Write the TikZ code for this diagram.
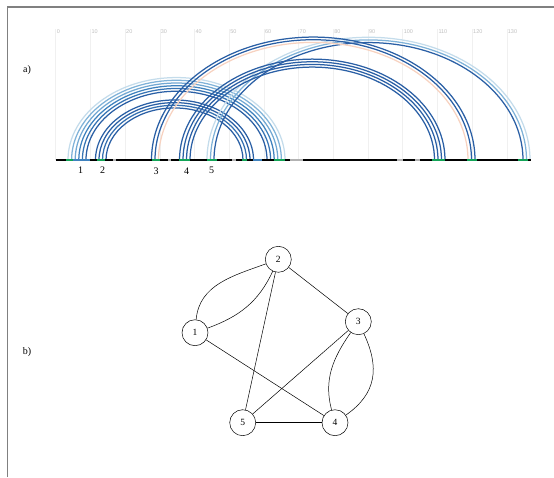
\documentclass[tikz,border=0pt]{standalone}
\usepackage{fontspec}
\setmainfont{Liberation Serif}
\setsansfont{Liberation Sans}
\definecolor{lnkdark}{HTML}{2A5FA5}
\definecolor{lnkmid}{HTML}{3F82BE}
\definecolor{lnklight}{HTML}{7FB2D8}
\definecolor{lnkpale}{HTML}{C4DCEB}
\definecolor{lnksalmon}{HTML}{F7D2C0}
\definecolor{sitegreen}{HTML}{13A457}
\tikzset{frame/.style={draw=black!50,line width=1.3pt},grid/.style={draw=black!6,line width=0.6pt},tick/.style={font=\sffamily\fontsize{5.5}{5.5}\selectfont,text=black!25,anchor=north west,inner sep=0.4pt},site/.style={font=\fontsize{10}{10}\selectfont,inner sep=0pt},link/.style={line width=1.25pt},vertex/.style={draw,circle,minimum size=26pt,inner sep=0pt,font=\fontsize{9.5}{9.5}\selectfont,line width=0.5pt},edge/.style={line width=0.5pt}}
\newcommand{\linkarc}[3]{\draw[link,#3] (#1,-160) arc[start angle=180,end angle=0,x radius={(#2-#1)/2},y radius={0.76*(#2-#1)/2}];}

\begin{document}
\begin{tikzpicture}[x=1pt,y=1pt]
\useasboundingbox (0,0) rectangle (554,-477);
\draw[frame] (7.5,-477) -- (7.5,-7) -- (554,-7);
\node[site] (pa) at (27,-70) {a)};
\node[site] (pb) at (27,-352) {b)};
% position ruler
\foreach \t [evaluate=\t as \v using int(10*\t)] in {0,...,13}{\draw[grid] ({55.7+34.7*\t},-29) -- ({55.7+34.7*\t},-160);\node[tick] at ({56.2+34.7*\t},-29.5) {\v};}
% links
\linkarc{68}{285}{lnkpale}\linkarc{71.6}{281.4}{lnklight}\linkarc{75.2}{277.8}{lnklight!80!lnkmid}\linkarc{78.8}{274.2}{lnkmid}\linkarc{82.4}{270.6}{lnkmid!60!lnkdark}\linkarc{86}{267}{lnkdark}
\linkarc{95.5}{253.5}{lnkdark}\linkarc{99}{250}{lnkdark}\linkarc{102.5}{246.5}{lnkmid!50!lnkdark}\linkarc{106}{243}{lnkdark}
\linkarc{207}{530}{lnkpale}\linkarc{210.5}{526.5}{lnklight}\linkarc{214}{523}{lnkdark}
\linkarc{151.5}{475}{lnkdark}\linkarc{155}{471.5}{lnkdark}\linkarc{158.5}{468}{lnksalmon}
\linkarc{179.5}{445}{lnkdark}\linkarc{183}{441.5}{lnkdark}\linkarc{186.5}{438}{lnkdark}\linkarc{190}{434.5}{lnkdark}
% sequence line
\draw[line width=1.8pt] (55.7,-160) -- (531,-160);
\foreach \a/\b in {113/116,168/171,232/236,290/303,397/403,415/420}{\draw[line width=1.8pt,black!30] (\a,-160) -- (\b,-160);}
\foreach \a/\b in {73/90,253/262}{\draw[line width=1.8pt,lnkmid] (\a,-160) -- (\b,-160);}
\foreach \a/\b in {66/73,97/105,152/160,179/190,207/217,242/247,274/285,432/445,467/477,518/528}{\draw[line width=1.8pt,sitegreen] (\a,-160) -- (\b,-160);}
\node[site] (s1) at (80.7,-170) {1};\node[site] (s2) at (102.7,-170) {2};\node[site] (s3) at (156,-171) {3};\node[site] (s4) at (186.7,-171) {4};\node[site] (s5) at (211.7,-170) {5};
% contact graph
\node[vertex] (n1) at (195,-332.7) {1};
\node[vertex] (n2) at (278.3,-259.3) {2};
\node[vertex] (n3) at (358.3,-321.7) {3};
\node[vertex] (n4) at (335,-422.7) {4};
\node[vertex] (n5) at (242.7,-422.7) {5};
\draw[edge] (n1) to[out=85,in=200] (n2);\draw[edge] (n1) to[out=20,in=-115] (n2);
\draw[edge] (n2) -- (n3);\draw[edge] (n2) -- (n5);\draw[edge] (n1) -- (n4);\draw[edge] (n3) -- (n5);\draw[edge] (n5) -- (n4);
\draw[edge] (n3) to[out=235,in=105] (n4);\draw[edge] (n3) to[out=-65,in=35,looseness=1.15] (n4);
\end{tikzpicture}
\end{document}
